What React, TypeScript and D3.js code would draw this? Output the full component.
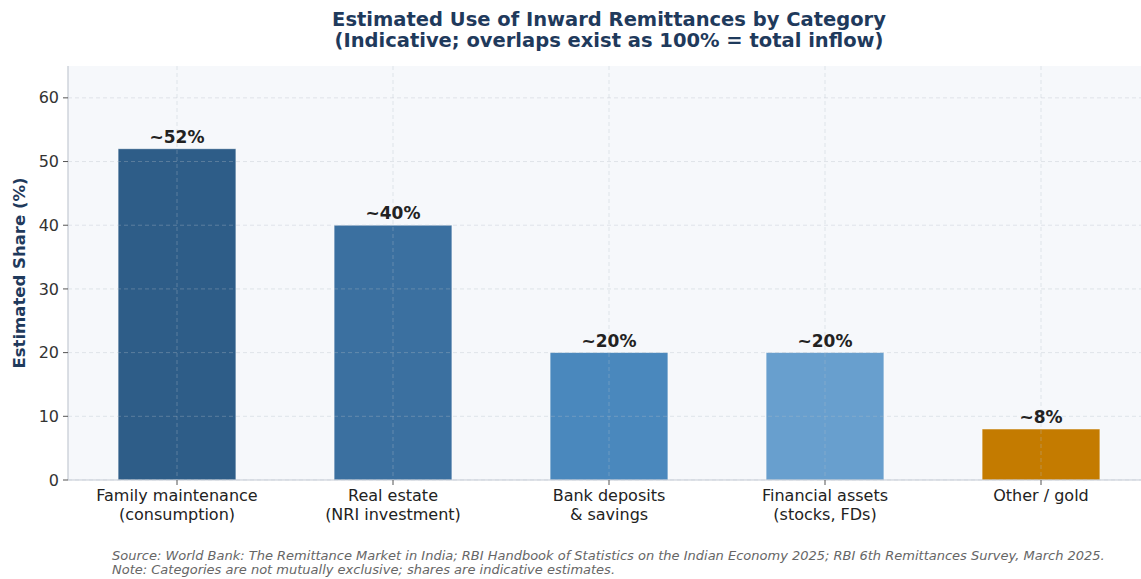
import React from "react";
import * as d3 from "d3";

const categories = ["Family maintenance\n(consumption)", "Real estate\n(NRI investment)", "Bank deposits\n& savings", "Financial assets\n(stocks, FDs)", "Other / gold"];
const shares = [52, 40, 20, 20, 8];
const valueLabels = ["~52%", "~40%", "~20%", "~20%", "~8%"];
const barColors = ["#2e5d88", "#3b70a0", "#4a88bd", "#689fce", "#c47b00"];
const yTicks = [0, 10, 20, 30, 40, 50, 60];

const W = 1141, H = 579;
const plotLeft = 68, plotTop = 66, plotBottom = 480;

export default function App() {
  const x = d3.scaleLinear().domain([-0.5, 4.5]).range([69, 1149]);
  const y = d3.scaleLinear().domain([0, 65]).range([plotBottom, plotTop]);
  const bw = x(0.545) - x(0);
  const font = "'DejaVu Sans', sans-serif";
  return (
    <svg width={W} height={H} style={{ position: "absolute", left: 0, top: 0 }} fontFamily={font}>
      <rect x={0} y={0} width={W} height={H} fill="#ffffff" />
      <rect x={plotLeft} y={plotTop} width={W - plotLeft} height={plotBottom - plotTop} fill="#f6f8fb" />
      <text x={609} y={26} textAnchor="middle" fontSize={19.5} fontWeight="bold" fill="#1f3a5c">Estimated Use of Inward Remittances by Category</text>
      <text x={609} y={47} textAnchor="middle" fontSize={19.5} fontWeight="bold" fill="#1f3a5c">(Indicative; overlaps exist as 100% = total inflow)</text>
      {shares.map((v, i) => (
        <rect key={i} x={x(i) - bw / 2} y={y(v)} width={bw} height={y(0) - y(v)} fill={barColors[i]} stroke="#ffffff" strokeOpacity={0.5} strokeWidth={0.8} />
      ))}
      {yTicks.map((t) => (
        <line key={"gy" + t} x1={plotLeft} x2={W} y1={y(t)} y2={y(t)} stroke="#b4bcc8" strokeOpacity={0.38} strokeDasharray="4,3" strokeWidth={0.9} />
      ))}
      {shares.map((_, i) => (
        <line key={"gx" + i} x1={x(i)} x2={x(i)} y1={plotTop} y2={plotBottom} stroke="#b4bcc8" strokeOpacity={0.38} strokeDasharray="4,3" strokeWidth={0.9} />
      ))}
      <line x1={plotLeft} x2={plotLeft} y1={plotTop} y2={plotBottom} stroke="#c4cad3" strokeWidth={1.2} />
      <line x1={plotLeft} x2={W} y1={plotBottom} y2={plotBottom} stroke="#c4cad3" strokeWidth={1.2} />
      {yTicks.map((t) => (
        <g key={"ty" + t}>
          <line x1={plotLeft - 5} x2={plotLeft} y1={y(t)} y2={y(t)} stroke="#555" strokeWidth={1} />
          <text x={plotLeft - 9} y={y(t)} dy="0.35em" textAnchor="end" fontSize={16} fill="#333">{t}</text>
        </g>
      ))}
      {categories.map((c, i) => (
        <g key={"tx" + i}>
          <line x1={x(i)} x2={x(i)} y1={plotBottom} y2={plotBottom + 5} stroke="#555" strokeWidth={1} />
          {c.split("\n").map((line, j) => (
            <text key={j} x={x(i)} y={plotBottom + 21 + j * 18.5} textAnchor="middle" fontSize={16} fill="#222">{line}</text>
          ))}
        </g>
      ))}
      {shares.map((v, i) => (
        <text key={"vl" + i} x={x(i)} y={y(v) - 6} textAnchor="middle" fontSize={17} fontWeight="bold" fill="#222">{valueLabels[i]}</text>
      ))}
      <text transform={`translate(25,${(plotTop + plotBottom) / 2}) rotate(-90)`} textAnchor="middle" fontSize={16.5} fontWeight="bold" fill="#1f3a5c">Estimated Share (%)</text>
      <text x={112} y={560} fontSize={13} fontStyle="italic" fill="#666">Source: World Bank: The Remittance Market in India; RBI Handbook of Statistics on the Indian Economy 2025; RBI 6th Remittances Survey, March 2025.</text>
      <text x={112} y={574} fontSize={13} fontStyle="italic" fill="#666">Note: Categories are not mutually exclusive; shares are indicative estimates.</text>
    </svg>
  );
}
